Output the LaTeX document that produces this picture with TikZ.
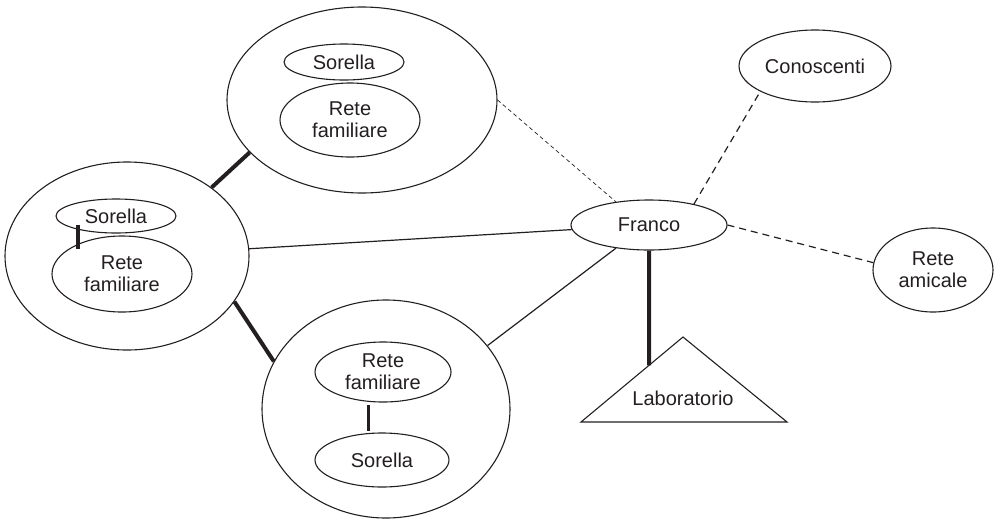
\documentclass[tikz,border=0pt]{standalone}
\usepackage{fontspec}
\setmainfont{Liberation Sans}
\usetikzlibrary{shapes.geometric,calc}

\definecolor{ink}{RGB}{35,31,32}

\tikzset{
  blob/.style={draw=ink, ellipse, line width=1.1pt, inner sep=0pt,
    align=center, text=ink, font=\fontsize{20}{22}\selectfont},
  heavy/.style={draw=ink, line width=4pt},
  plain/.style={draw=ink, line width=1.2pt},
  weak/.style={draw=ink, line width=0.7pt, dash pattern=on 4pt off 3pt},
  loose/.style={draw=ink, line width=1.2pt, dash pattern=on 7pt off 5pt},
}

\begin{document}
\begin{tikzpicture}[x=1pt, y=-1pt]
\useasboundingbox (0,0) rectangle (995,520);

% family network, upper group
\node[blob, minimum width=270pt, minimum height=186pt] (T) at (362,100) {};
\node[blob, minimum width=120pt, minimum height=36pt] (TS) at (344,62) {Sorella};
\node[blob, minimum width=140pt, minimum height=74pt] (TR) at (350,120) {Rete\\familiare};

% family network, left group
\node[blob, minimum width=244pt, minimum height=188pt] (L) at (127,256) {};
\node[blob, minimum width=120pt, minimum height=34pt] (LS) at (116,216) {Sorella};
\node[blob, minimum width=140pt, minimum height=76pt] (LR) at (122,274) {Rete\\familiare};

% family network, lower group
\node[blob, minimum width=248pt, minimum height=218pt] (B) at (386,409) {};
\node[blob, minimum width=136pt, minimum height=60pt] (BR) at (383,372) {Rete\\familiare};
\node[blob, minimum width=134pt, minimum height=54pt] (BS) at (382,460) {Sorella};

% ego and other networks
\node[blob, minimum width=156pt, minimum height=50pt] (F) at (649,225) {Franco};
\node[blob, minimum width=152pt, minimum height=72pt] (C) at (815,66) {Conoscenti};
\node[blob, minimum width=120pt, minimum height=84pt] (RA) at (933,270) {Rete\\amicale};

% workplace triangle
\coordinate (labA) at (683,337);
\coordinate (labL) at (581,422);
\coordinate (labR) at (787,422);
\draw[plain, line width=1.1pt, line join=miter] (labA) -- (labL) -- (labR) -- cycle;
\node[text=ink, font=\fontsize{20}{22}\selectfont] (lab) at (683,398) {Laboratorio};
\coordinate (labhit) at ($(labL)!0.667!(labA)$);

% strong ties
\draw[heavy] (L.39) -- (T.205);
\draw[heavy] (L.-23.6) -- (B.157.5);
\draw[heavy] (F.south) -- (labhit);
\draw[heavy, shorten <=-4.6pt, shorten >=-5.4pt] (LS.200.7) -- (LS.200.7 |- LR.144.1);
\draw[heavy, line width=3.5pt, shorten <=3.5pt, shorten >=1.5pt] (BR.244.5) -- (BR.244.5 |- BS.116.1);

% ordinary ties
\draw[plain] (L) -- (F);
\draw[plain] (F.215.5) -- (B.32);

% weak ties
\draw[weak] (T.-0.8) -- (F.145);
\draw[loose] (F.25) -- (C.205.8);
\draw[loose] (F.east) -- (RA.173);
\end{tikzpicture}
\end{document}
